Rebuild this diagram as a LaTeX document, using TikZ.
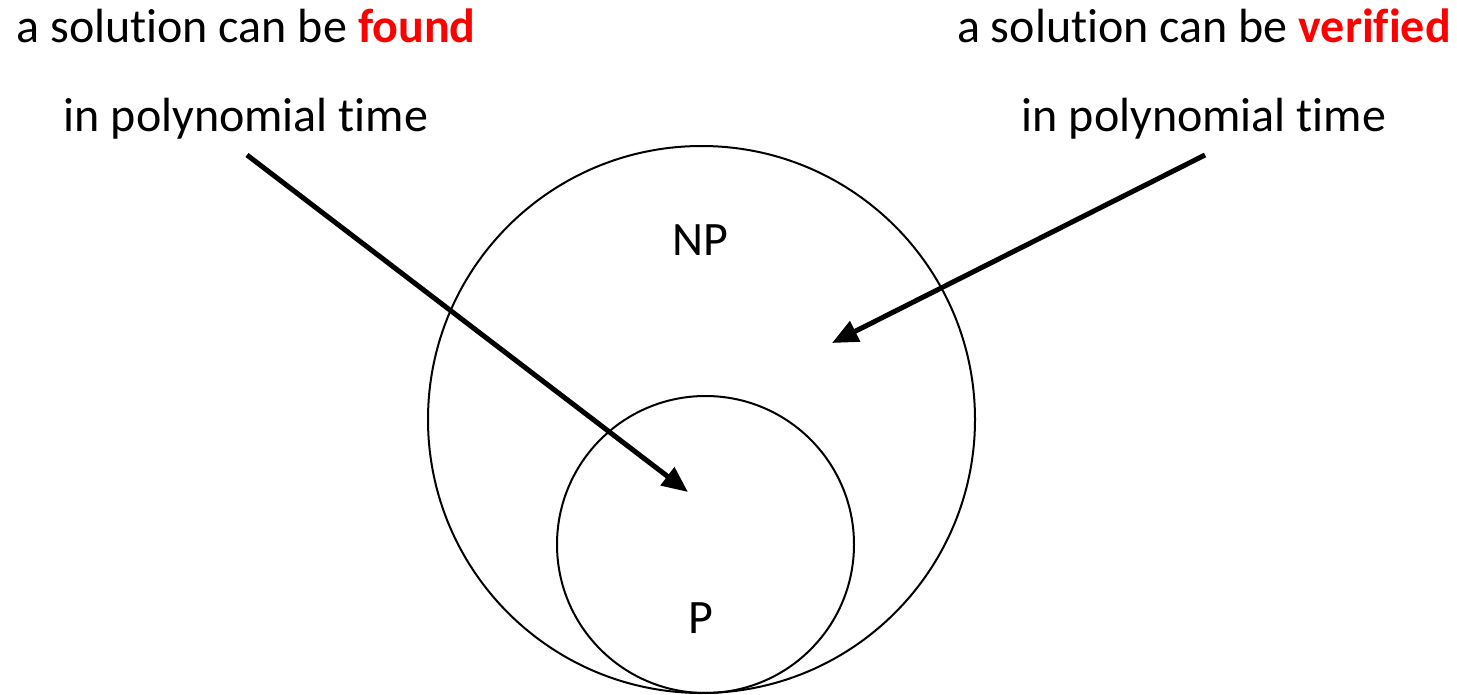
\documentclass[tikz,border=0pt]{standalone}
\usepackage{fontspec}
\setmainfont{Carlito}[Ligatures={NoCommon,TeX}]
\usetikzlibrary{arrows.meta}
\definecolor{hired}{RGB}{255,0,0}
\tikzset{
  lbl/.style={font=\fontsize{48}{58}\selectfont, inner sep=0pt, anchor=base},
  ring/.style={draw, line width=2pt, circle},
  pointer/.style={line width=5pt, -{Triangle[length=26pt,width=22pt]}},
}
\begin{document}
\begin{tikzpicture}[x=1pt,y=-1pt]
\useasboundingbox (0,0) rectangle (1457,695);
\node[ring, minimum size=547pt, inner sep=0pt] (np) at (701.5,419.5) {};
\node[ring, minimum size=297pt, inner sep=0pt] (p) at (705.5,544.5) {};
\node[lbl] (l1) at (246,43) {a solution can be \textcolor{hired}{\textbf{found}}};
\node[lbl] (l2) at (246,132) {in polynomial time};
\node[lbl] (r1) at (1204,43) {a solution can be \textcolor{hired}{\textbf{verified}}};
\node[lbl] (r2) at (1204,132) {in polynomial time};
\node[lbl, anchor=center] (nplbl) at (700,240) {NP};
\node[lbl, anchor=center] (plbl) at (701,618) {P};
\coordinate (ls) at (247,155);
\coordinate (lt) at (688,492);
\coordinate (rs) at (1205,155);
\coordinate (rt) at (832,343);
\draw[pointer] (ls) -- (lt);
\draw[pointer] (rs) -- (rt);
\end{tikzpicture}
\end{document}
